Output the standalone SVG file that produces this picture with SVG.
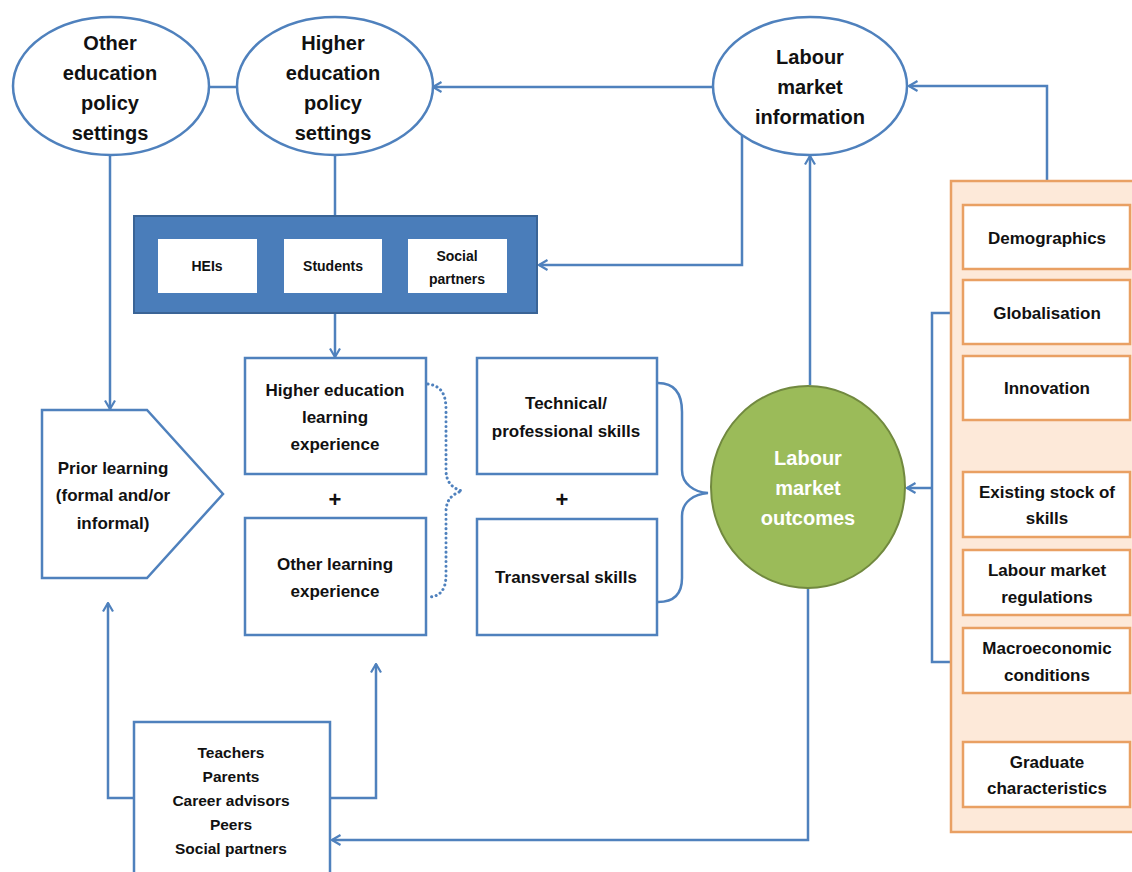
<svg xmlns="http://www.w3.org/2000/svg" width="1132" height="872" viewBox="0 0 1132 872">
<defs>
<style>
text{font-family:"Liberation Sans",Arial,sans-serif;font-weight:bold;fill:#111;text-anchor:middle}
.t20{font-size:20px}
.t17{font-size:17px}
.t14{font-size:14px}
.t15{font-size:15.5px}
.wh{fill:#fff}
.node{fill:#fff;stroke:#4f81bd;stroke-width:2.5}
.fac{fill:#fff;stroke:#e9a063;stroke-width:2.5}
.ln{fill:none;stroke:#4f81bd;stroke-width:2.5}
.arr{marker-end:url(#arr)}
</style>
<marker id="arr" viewBox="0 0 12 12" refX="10.5" refY="6" markerWidth="12" markerHeight="12" markerUnits="userSpaceOnUse" orient="auto">
<path d="M2,1 L10.5,6 L2,11" fill="none" stroke="#4f81bd" stroke-width="2.2"/>
</marker>
</defs>
<rect width="1132" height="872" fill="#fff"/>

<g id="connectors">
<path class="ln" d="M210,87 H237"/>
<path class="ln arr" d="M713,87 H433"/>
<path class="ln arr" d="M1047,181 V86 H909"/>
<path class="ln arr" d="M742,136 V265 H539"/>
<path class="ln arr" d="M810,385 V156"/>
<path class="ln" d="M335,155 V216"/>
<path class="ln arr" d="M335,313 V357"/>
<path class="ln arr" d="M110,155 V409"/>
<path class="ln arr" d="M134,798 H108 V603"/>
<path class="ln arr" d="M330,798 H376 V664"/>
<path class="ln arr" d="M808,588 V840 H332"/>
<path class="ln" d="M951,313 H932 V662 H951"/>
<path class="ln arr" d="M932,488 H907"/>
<path class="ln" d="M658,383 C676,383 682,395 682,412 V470 C682,484 694,492 708,493 C694,494 682,502 682,516 V578 C682,594 674,602 658,602"/>
<path fill="none" stroke="#4f81bd" stroke-width="3" stroke-dasharray="0.1 4.6" stroke-linecap="round" d="M428,384 C442,386 446,395 446,410 V470 C446,482 452,488 462,491 C452,494 446,500 446,512 V575 C446,590 440,596 430,597"/>
</g>

<g id="other-education-policy">
<ellipse class="node" cx="111" cy="86" rx="98" ry="69"/>
<text class="t20" x="110" y="50">Other</text>
<text class="t20" x="110" y="80">education</text>
<text class="t20" x="110" y="110">policy</text>
<text class="t20" x="110" y="140">settings</text>
</g>

<g id="higher-education-policy">
<ellipse class="node" cx="335" cy="86" rx="98" ry="69"/>
<text class="t20" x="333" y="50">Higher</text>
<text class="t20" x="333" y="80">education</text>
<text class="t20" x="333" y="110">policy</text>
<text class="t20" x="333" y="140">settings</text>
</g>

<g id="labour-market-information">
<ellipse class="node" cx="810" cy="86" rx="97" ry="69"/>
<text class="t20" x="810" y="64">Labour</text>
<text class="t20" x="810" y="94">market</text>
<text class="t20" x="810" y="124">information</text>
</g>

<g id="actors">
<rect x="134" y="216" width="403" height="97" fill="#4a7dba" stroke="#3a6496" stroke-width="2"/>
<rect x="158" y="239" width="99" height="54" fill="#fff"/>
<rect x="284" y="239" width="98" height="54" fill="#fff"/>
<rect x="408" y="239" width="99" height="54" fill="#fff"/>
<text class="t14" x="207" y="271">HEIs</text>
<text class="t14" x="333" y="271">Students</text>
<text class="t14" x="457" y="261">Social</text>
<text class="t14" x="457" y="284">partners</text>
</g>

<g id="prior-learning">
<path class="node" d="M42,410 H147 L223,494 L147,578 H42 Z"/>
<text class="t17" x="113" y="474">Prior learning</text>
<text class="t17" x="113" y="501">(formal and/or</text>
<text class="t17" x="113" y="529">informal)</text>
</g>

<g id="he-learning">
<rect class="node" x="245" y="358" width="181" height="116"/>
<text class="t17" x="335" y="396">Higher education</text>
<text class="t17" x="335" y="423">learning</text>
<text class="t17" x="335" y="450">experience</text>
</g>

<text id="plus1" x="335" y="507" style="font-size:22px">+</text>

<g id="other-learning">
<rect class="node" x="245" y="518" width="181" height="117"/>
<text class="t17" x="335" y="570">Other learning</text>
<text class="t17" x="335" y="597">experience</text>
</g>

<g id="technical-skills">
<rect class="node" x="477" y="358" width="180" height="116"/>
<text class="t17" x="566" y="409">Technical/</text>
<text class="t17" x="566" y="437">professional skills</text>
</g>

<text id="plus2" x="562" y="507" style="font-size:22px">+</text>

<g id="transversal-skills">
<rect class="node" x="477" y="519" width="180" height="116"/>
<text class="t17" x="566" y="583">Transversal skills</text>
</g>

<g id="labour-market-outcomes">
<ellipse cx="808" cy="487" rx="97" ry="101" fill="#9bbb59" stroke="#71893f" stroke-width="2"/>
<text class="t20 wh" x="808" y="465">Labour</text>
<text class="t20 wh" x="808" y="495">market</text>
<text class="t20 wh" x="808" y="525">outcomes</text>
</g>

<g id="influencers">
<rect class="node" x="134" y="722" width="196" height="170"/>
<text class="t15" x="231" y="758">Teachers</text>
<text class="t15" x="231" y="782">Parents</text>
<text class="t15" x="231" y="806">Career advisors</text>
<text class="t15" x="231" y="830">Peers</text>
<text class="t15" x="231" y="854">Social partners</text>
</g>

<g id="context-factors">
<rect x="951" y="181" width="200" height="651" fill="#fde9d9" stroke="#e9a063" stroke-width="2.5"/>
<rect class="fac" x="963" y="205" width="167" height="64"/>
<text class="t17" x="1047" y="244">Demographics</text>
<rect class="fac" x="963" y="280" width="167" height="64"/>
<text class="t17" x="1047" y="319">Globalisation</text>
<rect class="fac" x="963" y="356" width="167" height="64"/>
<text class="t17" x="1047" y="394">Innovation</text>
<rect class="fac" x="963" y="472" width="167" height="65"/>
<text class="t17" x="1047" y="498">Existing stock of</text>
<text class="t17" x="1047" y="524">skills</text>
<rect class="fac" x="963" y="550" width="167" height="65"/>
<text class="t17" x="1047" y="576">Labour market</text>
<text class="t17" x="1047" y="603">regulations</text>
<rect class="fac" x="963" y="628" width="167" height="65"/>
<text class="t17" x="1047" y="654">Macroeconomic</text>
<text class="t17" x="1047" y="681">conditions</text>
<rect class="fac" x="963" y="742" width="167" height="65"/>
<text class="t17" x="1047" y="768">Graduate</text>
<text class="t17" x="1047" y="794">characteristics</text>
</g>
</svg>
